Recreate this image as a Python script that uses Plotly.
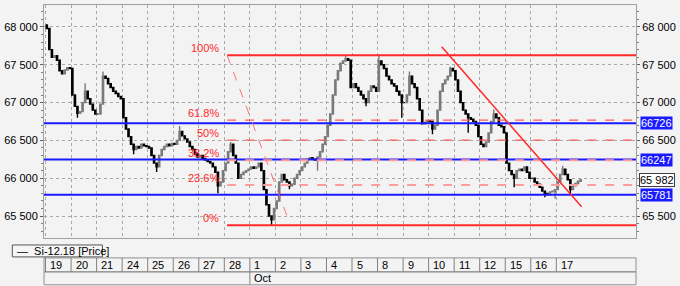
import plotly.graph_objects as go

# ---------------- data ----------------
day_labels = ["19", "20", "21", "24", "25", "26", "27", "28", "1", "2", "3",
              "4", "5", "8", "9", "10", "11", "12", "15", "16", "17"]
month_label = "Oct"
month_start_day = 8

first_open = 68020
closes = [
    [67980, 67700, 67600, 67620, 67560, 67420, 67380, 67430, 67460, 67450],
    [67100, 66950, 66860, 66880, 67000, 67150, 67050, 66980, 66900, 66850],
    [66850, 66980, 67350, 67320, 67250, 67200, 67150, 67120, 67080, 67050],
    [66800, 66650, 66550, 66450, 66380, 66420, 66400, 66450, 66430, 66420],
    [66400, 66300, 66200, 66150, 66300, 66380, 66420, 66450, 66430, 66460],
    [66450, 66500, 66620, 66560, 66520, 66480, 66420, 66380, 66320, 66280],
    [66300, 66260, 66240, 66220, 66200, 66150, 66080, 65900, 65950, 66100],
    [66200, 66350, 66450, 66300, 66200, 66000, 66050, 66080, 66100, 66120],
    [66150, 66130, 66150, 66200, 66100, 65850, 65650, 65500, 65450, 65600],
    [65700, 65950, 66050, 65980, 65950, 65900, 65920, 66000, 66050, 66100],
    [66150, 66200, 66250, 66270, 66250, 66240, 66280, 66350, 66450, 66550],
    [66700, 66850, 67100, 67300, 67420, 67520, 67550, 67580, 67560, 67200],
    [67250, 67200, 67150, 67100, 67050, 67000, 67150, 67220, 67200, 67150],
    [67550, 67500, 67450, 67350, 67300, 67250, 67220, 67150, 67100, 67000],
    [67000, 67100, 67350, 67250, 67200, 67050, 66900, 66720, 66740, 66760],
    [66750, 66650, 66700, 66900, 67150, 67250, 67300, 67350, 67450, 67420],
    [67300, 67150, 67000, 66900, 66850, 66800, 66780, 66750, 66700, 66550],
    [66450, 66420, 66480, 66600, 66750, 66850, 66800, 66700, 66680, 66600],
    [66200, 66100, 66050, 66000, 66100, 66120, 66100, 66150, 66080, 66000],
    [66000, 65950, 65920, 65880, 65830, 65800, 65780, 65820, 65830, 65850],
    [65950, 66050, 66120, 66050, 65980, 65850, 65900, 65930, 65960, 65982],
]
# notable wicks: (day, bar, 'h'/'l', value)
spikes = [
    (0, 0, 'h', 68040), (1, 5, 'h', 67255), (1, 2, 'l', 66800),
    (2, 2, 'h', 67410), (3, 4, 'l', 66316), (4, 3, 'l', 66083),
    (5, 2, 'h', 66690), (6, 7, 'l', 65803), (7, 2, 'h', 66480),
    (8, 8, 'l', 65380), (9, 5, 'l', 65855), (10, 6, 'l', 66100),
    (11, 7, 'h', 67630), (12, 5, 'l', 66950), (13, 0, 'h', 67630),
    (13, 9, 'l', 66800), (14, 2, 'h', 67410), (15, 1, 'l', 66580),
    (15, 8, 'h', 67475), (16, 5, 'l', 66600), (17, 5, 'h', 66907),
    (18, 3, 'l', 65880), (19, 5, 'l', 65750), (19, 9, 'l', 65730),
    (20, 2, 'h', 66165), (20, 5, 'l', 65790),
]

blue_levels = [66726, 66247, 65781]
blue_texts = ["66726", "66247", "65781"]
last_price = 65982
last_text = "65 982"

fib_high = 67627
fib_low = 65380
fib_ratios = [1.0, 0.618, 0.5, 0.382, 0.236, 0.0]
fib_labels = ["100%", "61.8%", "50%", "38.2%", "23.6%", "0%"]
fib_start_x = 7.11
fib_diag_end_x = 9.59

trend_x = [15.51, 20.99]
trend_y = [67737, 65622]

yticks_left = [65500, 66000, 66500, 67000, 67500, 68000]
yticks_right = [65500, 66500, 67000, 67500, 68000]
series_name = "Si-12.18 [Price]"

# ---------------- build OHLC ----------------
xs, o, h, l, c = [], [], [], [], []
prev = first_open
for d, day in enumerate(closes):
    n = len(day)
    for i, cl in enumerate(day):
        xs.append(d + (i + 0.5) / n)
        o.append(prev)
        c.append(cl)
        h.append(max(prev, cl))
        l.append(min(prev, cl))
        prev = cl
for d, i, kind, v in spikes:
    idx = sum(len(dd) for dd in closes[:d]) + i
    if kind == 'h':
        h[idx] = max(h[idx], v)
    else:
        l[idx] = min(l[idx], v)

# ---------------- layout geometry ----------------
W, H = 680, 286
ML, MR, MT, MB = 40, 42, 4, 48
PW, PH = W - ML - MR, H - MT - MB
X_RANGE = [-0.06, 23.12]
Y_RANGE = [65210, 68290]


def xp(px):
    return (px - ML) / PW


def yp(py):
    return (H - MB - py) / PH


def fmt(v):
    return f"{v:,}".replace(",", " ")


FONT = "Liberation Sans, Arial, sans-serif"
RED = "#ff2a2a"
BLUE = "#1a1aff"
GRID = "#a8a8a8"

fig = go.Figure()
fig.add_trace(go.Candlestick(
    x=xs, open=o, high=h, low=l, close=c,
    increasing=dict(line=dict(color="#7a7a7a", width=1.4), fillcolor="#7a7a7a"),
    decreasing=dict(line=dict(color="#000000", width=1.4), fillcolor="#000000"),
    whiskerwidth=0, showlegend=False, hoverinfo="skip",
))
fig.add_trace(go.Scatter(x=[xs[0]], y=[c[0]], yaxis="y2", mode="markers",
                         marker=dict(opacity=0), showlegend=False, hoverinfo="skip"))

shapes = []
for lv in blue_levels:
    shapes.append(dict(type="line", xref="paper", yref="y", x0=0, x1=1, y0=lv, y1=lv,
                       line=dict(color=BLUE, width=2)))
for r in fib_ratios:
    lv = fib_low + r * (fib_high - fib_low)
    if r in (1.0, 0.0):
        ln = dict(color=RED, width=2)
    elif r in (0.618, 0.5):
        ln = dict(color="#ff5a5a", width=1.2, dash="dash")
    else:
        ln = dict(color="#ff9c9c", width=2, dash="dash")
    shapes.append(dict(type="line", xref="x", yref="y", x0=fib_start_x, x1=X_RANGE[1],
                       y0=lv, y1=lv, line=ln))
shapes.append(dict(type="line", xref="x", yref="y", x0=fib_start_x, x1=fib_diag_end_x,
                   y0=fib_high, y1=fib_low, line=dict(color="#ff7070", width=1, dash="dash")))
shapes.append(dict(type="line", xref="x", yref="y", x0=trend_x[0], x1=trend_x[1],
                   y0=trend_y[0], y1=trend_y[1], line=dict(color=RED, width=1.5)))

shapes.append(dict(type="rect", xref="paper", yref="paper", x0=xp(8), x1=xp(99),
                   y0=yp(257), y1=yp(245), line=dict(color="#555555", width=1),
                   fillcolor="#f6f6f6"))
shapes.append(dict(type="rect", xref="paper", yref="paper", x0=xp(40), x1=xp(638),
                   y0=yp(272), y1=yp(258), line=dict(color="#909090", width=1)))
shapes.append(dict(type="rect", xref="paper", yref="paper", x0=xp(40), x1=xp(638),
                   y0=yp(285), y1=yp(272), line=dict(color="#909090", width=1)))
for d in range(len(day_labels)):
    shapes.append(dict(type="line", xref="x", yref="paper", x0=d, x1=d,
                       y0=yp(272), y1=yp(258), line=dict(color="#808080", width=1)))
shapes.append(dict(type="line", xref="x", yref="paper", x0=month_start_day, x1=month_start_day,
                   y0=yp(285), y1=yp(272), line=dict(color="#808080", width=1)))

ann = []
for d, t in enumerate(day_labels):
    ann.append(dict(text=t, xref="x", yref="paper", x=d + 0.1, y=yp(265.5),
                    xanchor="left", yanchor="middle", showarrow=False,
                    font=dict(family=FONT, size=11, color="#000")))
ann.append(dict(text=month_label, xref="x", yref="paper", x=month_start_day + 0.1, y=yp(278.5),
                xanchor="left", yanchor="middle", showarrow=False,
                font=dict(family=FONT, size=11, color="#000")))
ann.append(dict(text="\u2014  " + series_name, xref="paper", yref="paper", x=xp(11), y=yp(251),
                xanchor="left", yanchor="middle", showarrow=False,
                font=dict(family=FONT, size=11, color="#000")))
for r, t in zip(fib_ratios, fib_labels):
    lv = fib_low + r * (fib_high - fib_low)
    ann.append(dict(text=t, xref="paper", yref="y", x=xp(219), y=lv, xanchor="right",
                    yanchor="bottom", showarrow=False, yshift=-1,
                    font=dict(family=FONT, size=11, color=RED)))
for lv, t in zip(blue_levels, blue_texts):
    ann.append(dict(text=t, xref="paper", yref="y", x=xp(642), y=lv, xanchor="left",
                    yanchor="middle", showarrow=False, bgcolor=BLUE, borderpad=0,
                    font=dict(family=FONT, size=11, color="#ffffff")))
ann.append(dict(text=last_text, xref="paper", yref="y", x=xp(641), y=last_price, xanchor="left",
                yanchor="middle", showarrow=False, bgcolor="#ffffff", bordercolor="#404040",
                borderwidth=1, borderpad=0, font=dict(family=FONT, size=11, color="#000")))

minor_vals = list(range(65300, 68300, 100))

fig.update_layout(
    width=W, height=H, margin=dict(l=ML, r=MR, t=MT, b=MB),
    paper_bgcolor="#f3f3f3", plot_bgcolor="#f3f3f3",
    showlegend=False, shapes=shapes, annotations=ann,
    xaxis=dict(range=X_RANGE, tickvals=list(range(len(day_labels))), showticklabels=False,
               showgrid=True, gridcolor=GRID, griddash="dot", gridwidth=1, zeroline=False,
               showline=True, mirror=True, linecolor="#a0a0a0", linewidth=1,
               rangeslider=dict(visible=False), fixedrange=True),
    yaxis=dict(range=Y_RANGE, tickvals=yticks_left, ticktext=[fmt(v) for v in yticks_left],
               showgrid=True, gridcolor=GRID, griddash="dot", gridwidth=1, zeroline=False,
               showline=True, mirror=True, linecolor="#a0a0a0", linewidth=1,
               ticks="outside", ticklen=3, tickcolor="#606060",
               tickfont=dict(family=FONT, size=11, color="#000"),
               minor=dict(tickvals=minor_vals, ticks="outside", ticklen=2, tickcolor="#808080",
                          showgrid=False)),
    yaxis2=dict(range=Y_RANGE, overlaying="y", side="right", tickvals=yticks_right,
                ticktext=[fmt(v) for v in yticks_right], showgrid=False, zeroline=False,
                ticks="outside", ticklen=3, tickcolor="#606060",
                tickfont=dict(family=FONT, size=11, color="#000"),
                minor=dict(tickvals=minor_vals, ticks="outside", ticklen=2, tickcolor="#808080",
                           showgrid=False)),
)

fig.write_html("out.html")
